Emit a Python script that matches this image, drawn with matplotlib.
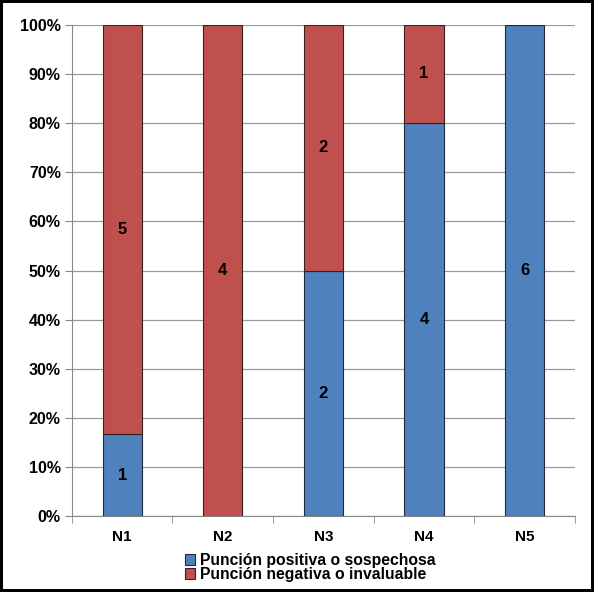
import matplotlib
matplotlib.use("Agg")
import matplotlib.pyplot as plt
import numpy as np
from matplotlib.ticker import FuncFormatter, MultipleLocator

plt.rcParams['font.family'] = ['Liberation Sans', 'DejaVu Sans']

categories = ["N1", "N2", "N3", "N4", "N5"]
positive = [1, 0, 2, 4, 6]
negative = [5, 4, 2, 1, 0]
series_labels = ["Punción positiva o sospechosa", "Punción negativa o invaluable"]
colors = ["#4F81BD", "#C0504D"]

pos = np.array(positive, dtype=float)
neg = np.array(negative, dtype=float)
total = pos + neg
pos_pct = pos / total * 100
neg_pct = neg / total * 100

fig = plt.figure(figsize=(5.94, 5.92), dpi=100)
fig.patch.set_edgecolor("black")
fig.patch.set_linewidth(3)
ax = fig.add_axes([0.121, 0.128, 0.847, 0.830])

x = np.arange(len(categories))
w = 0.39
b1 = ax.bar(x, pos_pct, w, color=colors[0], edgecolor="#1f2a3a", linewidth=0.8,
            label=series_labels[0], zorder=3)
b2 = ax.bar(x, neg_pct, w, bottom=pos_pct, color=colors[1], edgecolor="#3a1f1f",
            linewidth=0.8, label=series_labels[1], zorder=3)

for i in range(len(categories)):
    if pos[i] > 0:
        ax.text(x[i], pos_pct[i] / 2, f"{positive[i]}", ha="center", va="center",
                fontsize=12, fontweight="bold", zorder=4)
    if neg[i] > 0:
        ax.text(x[i], pos_pct[i] + neg_pct[i] / 2, f"{negative[i]}", ha="center",
                va="center", fontsize=12, fontweight="bold", zorder=4)

ax.set_xlim(-0.5, len(categories) - 0.5)
ax.set_ylim(0, 100)
ax.yaxis.set_major_locator(MultipleLocator(10))
ax.yaxis.set_major_formatter(FuncFormatter(lambda v, p: f"{v:.0f}%"))
ax.grid(axis="y", color="#999999", linewidth=0.9, zorder=0)

ax.set_xticks(x)
ax.set_xticklabels(categories, fontsize=11, fontweight="bold")
ax.set_xticks(np.arange(-0.5, len(categories)), minor=True)
ax.tick_params(axis="x", which="major", length=0, pad=10)
ax.tick_params(axis="x", which="minor", length=5, color="#888888")
ax.tick_params(axis="y", length=5, color="#888888", labelsize=11.5, pad=3)
for lbl in ax.get_yticklabels():
    lbl.set_fontweight("bold")

for s in ["top", "right"]:
    ax.spines[s].set_visible(False)
ax.spines["left"].set_color("#888888")
ax.spines["bottom"].set_color("#888888")

leg = fig.legend(handles=[b1, b2], labels=series_labels, loc="upper center",
                 bbox_to_anchor=(0.522, 1 - 545 / 592), frameon=False,
                 handlelength=0.65, handleheight=0.65, labelspacing=-0.05,
                 handletextpad=0.3, borderpad=0, prop={"size": 11.3, "weight": "bold"})

fig.savefig("out.png", dpi=100, edgecolor=fig.get_edgecolor())
